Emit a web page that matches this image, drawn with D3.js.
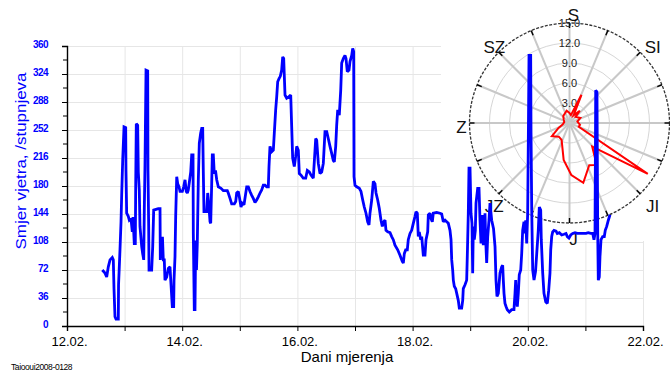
<!DOCTYPE html>
<html>
<head>
<meta charset="utf-8">
<script src="https://cdn.jsdelivr.net/npm/d3@7"></script>
<style>
  html, body { margin: 0; padding: 0; background: #fff; }
  svg { display: block; font-family: "Liberation Sans", Arial, sans-serif; }
</style>
</head>
<body>
<svg id="chart" width="670" height="371"></svg>
<script>
// Wind direction time series (day of February, direction in degrees)
const dayOfFeb = [
  12.613,12.660,12.689,12.717,12.747,12.786,12.804,12.816,12.833,12.851,12.891,12.895,12.920,12.938,12.950,12.967,12.990,
  13.019,13.024,13.036,13.064,13.082,13.111,13.134,13.146,13.168,13.186,13.193,13.203,13.227,13.238,13.255,13.267,13.297,
  13.314,13.332,13.342,13.354,13.372,13.401,13.406,13.418,13.424,13.470,13.488,13.505,13.545,13.585,13.615,13.620,13.632,
  13.658,13.672,13.689,13.701,13.731,13.759,13.788,13.806,13.828,13.852,13.858,13.875,13.887,13.905,13.922,13.944,13.962,
  14.002,14.026,14.049,14.071,14.089,14.106,14.148,14.165,14.188,14.193,14.210,14.222,14.234,14.248,14.262,14.280,14.297,
  14.321,14.339,14.356,14.366,14.378,14.425,14.443,14.465,14.483,14.495,14.512,14.523,14.540,14.557,14.578,14.599,14.627,
  14.674,14.714,14.783,14.800,14.830,14.859,14.905,14.929,14.946,14.974,14.995,15.021,15.043,15.073,15.120,15.148,15.177,
  15.207,15.234,15.264,15.293,15.321,15.351,15.380,15.408,15.438,15.467,15.495,15.507,15.524,15.554,15.582,15.599,15.623,
  15.641,15.658,15.681,15.703,15.727,15.745,15.762,15.773,15.785,15.814,15.854,15.884,15.901,15.918,15.946,15.970,15.988,
  16.016,16.033,16.063,16.102,16.144,16.172,16.207,16.236,16.276,16.318,16.335,16.363,16.392,16.422,16.450,16.479,16.509,
  16.536,16.566,16.595,16.623,16.641,16.665,16.682,16.700,16.727,16.752,16.769,16.797,16.826,16.844,16.866,16.896,16.913,
  16.943,16.960,16.977,16.983,17.000,17.030,17.075,17.104,17.134,17.161,17.191,17.220,17.243,17.260,17.290,17.318,17.347,
  17.365,17.394,17.422,17.451,17.474,17.498,17.521,17.538,17.568,17.608,17.637,17.665,17.694,17.741,17.781,17.821,17.839,
  17.856,17.880,17.908,17.925,17.955,17.984,18.012,18.042,18.059,18.082,18.099,18.116,18.141,18.158,18.186,18.215,18.233,
  18.262,18.273,18.302,18.319,18.342,18.359,18.418,18.476,18.505,18.533,18.563,18.592,18.620,18.649,18.667,18.679,18.696,
  18.707,18.724,18.748,18.766,18.793,18.811,18.852,18.870,18.880,18.910,18.939,18.953,18.967,18.979,18.997,19.014,19.031,
  19.043,19.054,19.071,19.089,19.101,19.130,19.153,19.170,19.188,19.200,19.217,19.227,19.245,19.257,19.269,19.286,19.304,
  19.326,19.344,19.373,19.405,19.431,19.448,19.465,19.488,19.517,19.547,19.564,19.575,19.587,19.604,19.622,19.644,19.679,
  19.720,19.760,19.778,19.790,19.800,19.818,19.835,19.852,19.877,19.894,19.911,19.934,19.951,19.964,19.981,19.998,20.009,
  20.021,20.050,20.056,20.068,20.085,20.108,20.134,20.155,20.182,20.200,20.224,20.234,20.259,20.281,20.311,20.339,20.363,
  20.385,20.398,20.415,20.432,20.455,20.490,20.512,20.547,20.589,20.628,20.663,20.686,20.715,20.745,20.780,20.819,20.859,
  20.906,20.964,21.010,21.050,21.092,21.127,21.149,21.167,21.179,21.201,21.214,21.224,21.241,21.253,21.271,21.300,21.328,
  21.345,21.370,21.398,21.427
];
const direction = [
  72,68,63,76,85,88,85,48,12,9,9,53,98,134,170,213,256,
  255,200,145,141,136,138,121,140,106,106,183,260,258,198,175,128,102,
  93,85,149,207,329,328,200,128,72,72,102,149,150,151,151,85,113,
  113,85,85,59,63,74,76,53,25,25,59,89,141,192,183,179,173,
  173,179,188,173,171,175,198,220,220,119,21,21,110,72,106,188,235,
  248,254,254,201,147,147,171,153,134,132,183,220,220,196,200,188,179,
  177,174,174,171,164,157,157,160,171,173,165,153,158,156,179,179,173,
  168,164,159,162,166,171,175,181,181,179,179,205,231,224,226,248,278,
  295,314,318,321,329,346,344,321,297,293,295,297,256,216,205,218,231,
  226,196,194,190,190,200,198,194,190,241,239,209,196,198,209,250,250,
  241,231,222,213,211,231,258,278,271,303,338,344,348,344,327,329,340,
  348,357,353,192,181,179,177,173,162,153,145,134,130,145,162,186,183,
  171,162,151,136,128,134,136,123,121,120,115,111,104,98,91,83,81,
  93,98,98,111,119,123,132,141,147,145,115,121,111,115,91,91,111,
  121,143,145,138,134,145,146,145,144,134,136,134,132,123,111,85,72,
  59,51,48,42,33,23,23,33,48,53,59,100,145,203,203,145,132,
  68,128,111,123,158,177,177,136,106,141,141,104,119,145,111,81,115,
  136,158,136,125,102,59,38,42,68,76,78,59,42,29,25,21,18,
  21,21,42,59,36,25,42,66,72,93,123,134,119,136,106,145,239,
  348,348,248,149,72,59,70,93,123,153,149,111,68,42,31,29,46,
  68,98,115,121,123,122,119,120,117,118,119,115,113,117,119,120,119,
  119,119,119,120,119,119,111,119,303,301,119,59,63,89,111,115,115,
  123,128,136,143
];

// Axis ticks and labels
const yTickValues = [0, 36, 72, 108, 144, 180, 216, 252, 288, 324, 360];
const yMinorValues = [18, 54, 90, 126, 162, 198, 234, 270, 306, 342];
const xTickDays = [12, 13, 14, 15, 16, 17, 18, 19, 20, 21, 22];
const xLabelDays = [12, 14, 16, 18, 20, 22];
const yTitle = "Smjer vjetra, /stupnjeva";
const xTitle = "Dani mjerenja";
const footnote = "Taiooui2008-0128";

// Polar inset: mean wind speed by direction
const roseBearing = [0, 10, 23, 28, 40, 45, 65, 80, 100, 112, 123, 136, 147, 155, 167, 178, 189, 205, 218, 233, 246, 260, 280, 300, 318, 335, 347];
const roseSpeed   = [1.5, 1.2, 4.6, 1.3, 2.4, 1.3, 1.8, 1.2, 1.6, 1.5, 14.0, 4.9, 7.5, 7.0, 9.2, 7.8, 5.6, 2.8, 2.6, 3.3, 1.8, 1.0, 0.8, 1.0, 1.4, 1.6, 1.9];
const ringValues = [3, 6, 9, 12, 15];
const ringLabels = ["3.0", "6.0", "9.0", "12.0", "15.0"];
// Compass points that fall inside the drawing (east lies past the right edge)
const compassNames = ["S", "SI", "JI", "J", "JZ", "Z", "SZ"];
const compassBearing = [0, 45, 135, 180, 225, 270, 315];

const svg = d3.select("#chart");
const plot = { left: 67, right: 643, top: 46, bottom: 326 };

const x = d3.scaleLinear().domain([12, 22]).range([plot.left, plot.right]);
const y = d3.scaleLinear().domain([0, 360]).range([plot.bottom, plot.top]);

// Grid
const grid = svg.append("g").attr("stroke", "#e6e6e6").attr("stroke-width", 1);
grid.selectAll("line.h").data(yTickValues.slice(1)).join("line")
  .attr("x1", plot.left).attr("x2", plot.right)
  .attr("y1", d => y(d) + 0.5).attr("y2", d => y(d) + 0.5);
grid.selectAll("line.v").data(xTickDays.slice(1)).join("line")
  .attr("x1", d => x(d) + 0.5).attr("x2", d => x(d) + 0.5)
  .attr("y1", plot.top).attr("y2", plot.bottom);

// Polar inset geometry
const cx = 569.5, cy = 123;
const r = d3.scaleLinear().domain([0, 15]).range([0, 100]);
const rad = b => b * Math.PI / 180;

// Inset background masks the grid behind it
svg.append("rect").attr("x", 441).attr("y", 0).attr("width", 229).attr("height", 241).attr("fill", "#fff");

const polar = svg.append("g").attr("transform", `translate(${cx},${cy})`);
polar.selectAll("circle.ring").data(ringValues.slice(0, -1)).join("circle")
  .attr("r", d => r(d)).attr("fill", "none").attr("stroke", "#d6d6d6").attr("stroke-width", 1);
const spokes = d3.range(16).map(i => i * 22.5);
polar.selectAll("line.spoke").data(spokes).join("line")
  .attr("x1", 0).attr("y1", 0)
  .attr("x2", d => r(15) * Math.sin(rad(d))).attr("y2", d => -r(15) * Math.cos(rad(d)))
  .attr("stroke", "#c8c8c8").attr("stroke-width", 2);
polar.append("circle").attr("r", r(15)).attr("fill", "none")
  .attr("stroke", "#333").attr("stroke-width", 1.3).attr("stroke-dasharray", "3,1.5");
polar.selectAll("line.tick").data(spokes).join("line")
  .attr("x1", d => (r(15) - 5) * Math.sin(rad(d))).attr("y1", d => -(r(15) - 5) * Math.cos(rad(d)))
  .attr("x2", d => r(15) * Math.sin(rad(d))).attr("y2", d => -r(15) * Math.cos(rad(d)))
  .attr("stroke", "#000").attr("stroke-width", 1.4);
polar.selectAll("text.ring").data(ringValues).join("text")
  .attr("x", 0).attr("y", d => -r(d))
  .attr("text-anchor", "middle").attr("dominant-baseline", "central")
  .attr("font-size", 11).attr("fill", "#222")
  .text((d, i) => ringLabels[i]);
polar.selectAll("text.dir").data(compassNames).join("text")
  .attr("x", (d, i) => 112 * Math.sin(rad(compassBearing[i])) + 4)
  .attr("y", (d, i) => -112 * Math.cos(rad(compassBearing[i])) + 4)
  .attr("text-anchor", "middle").attr("dominant-baseline", "central")
  .attr("font-size", 17).attr("fill", "#111")
  .text(d => d);

// Axes
const yAxis = svg.append("g").attr("transform", `translate(${plot.left},0)`)
  .call(d3.axisLeft(y).tickValues(yTickValues).tickSize(5).tickPadding(14).tickFormat(d3.format("d")));
yAxis.select(".domain").attr("stroke", "#000").attr("stroke-width", 1.4);
yAxis.selectAll(".tick line").attr("stroke", "#000");
yAxis.selectAll(".tick text").attr("fill", "#0000ff").attr("font-size", 10)
  .attr("font-weight", "bold").attr("letter-spacing", -0.6).attr("dy", "0.1em")
  .attr("font-family", "'Liberation Sans', Arial, sans-serif");
svg.append("g").attr("transform", `translate(${plot.left},0)`)
  .selectAll("line").data(yMinorValues).join("line")
  .attr("x1", -4).attr("x2", 0).attr("y1", d => y(d)).attr("y2", d => y(d))
  .attr("stroke", "#000");

const xAxis = svg.append("g").attr("transform", `translate(0,${plot.bottom})`)
  .call(d3.axisBottom(x).tickValues(xTickDays).tickSize(5).tickPadding(6)
    .tickFormat(d => xLabelDays.includes(d) ? d3.format("02d")(d) + ".02." : ""));
xAxis.select(".domain").attr("stroke", "#000").attr("stroke-width", 1.4);
xAxis.selectAll(".tick line").attr("stroke", "#000");
xAxis.selectAll(".tick text").attr("fill", "#000").attr("font-size", 13).attr("dx", 2)
  .attr("font-family", "'Liberation Sans', Arial, sans-serif");

// Titles
svg.append("text")
  .attr("transform", `translate(21,161) rotate(-90)`)
  .attr("text-anchor", "middle").attr("dominant-baseline", "central")
  .attr("font-size", 14).attr("fill", "#0000ff")
  .attr("textLength", 177).attr("lengthAdjust", "spacingAndGlyphs")
  .text(yTitle);
svg.append("text")
  .attr("x", (plot.left + plot.right) / 2 - 8).attr("y", 362)
  .attr("text-anchor", "middle").attr("font-size", 15).attr("fill", "#000")
  .text(xTitle);
svg.append("text")
  .attr("x", 11).attr("y", 370)
  .attr("font-size", 8.5).attr("fill", "#000").attr("letter-spacing", -0.4)
  .text(footnote);

// Wind direction line
const series = dayOfFeb.map((d, i) => [d, direction[i]]);
svg.append("path").datum(series)
  .attr("fill", "none").attr("stroke", "#0000ff").attr("stroke-width", 2.8)
  .attr("stroke-linejoin", "miter").attr("stroke-miterlimit", 2)
  .attr("d", d3.line().x(d => x(d[0])).y(d => y(d[1])));

// Wind rose polygon
const rose = roseBearing.map((b, i) => [rad(b), r(roseSpeed[i])]);
polar.append("path").datum(rose)
  .attr("fill", "none").attr("stroke", "#ff0000").attr("stroke-width", 2)
  .attr("stroke-linejoin", "miter")
  .attr("d", d3.lineRadial().angle(d => d[0]).radius(d => d[1]).curve(d3.curveLinearClosed));
</script>
</body>
</html>
